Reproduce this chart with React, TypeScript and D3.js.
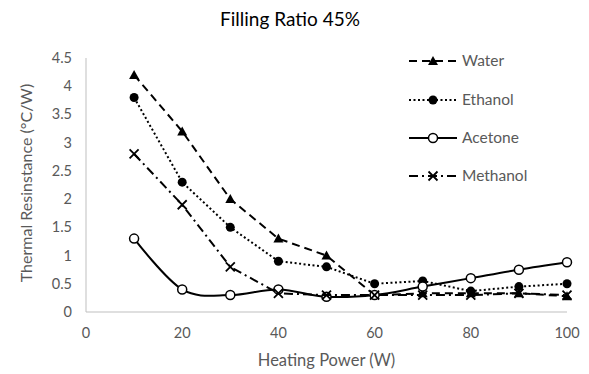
import React from "react";
import * as d3 from "d3";

const power = [10, 20, 30, 40, 50, 60, 70, 80, 90, 100];
const water = [4.2, 3.2, 2.0, 1.3, 1.0, 0.3, 0.33, 0.33, 0.33, 0.28];
const ethanol = [3.8, 2.3, 1.5, 0.9, 0.8, 0.5, 0.55, 0.37, 0.45, 0.5];
const acetone = [1.3, 0.4, 0.3, 0.4, 0.27, 0.3, 0.45, 0.6, 0.75, 0.88];
const methanol = [2.8, 1.9, 0.8, 0.33, 0.3, 0.3, 0.3, 0.3, 0.33, 0.3];
const xTicks = [0, 20, 40, 60, 80, 100];
const yTicks = [0, 0.5, 1, 1.5, 2, 2.5, 3, 3.5, 4, 4.5];

const W = 589;
const H = 374;
const FONT = "Lato, 'Open Sans', sans-serif";
const GREY = "#595959";

type Marker = "triangle" | "dot" | "ring" | "cross";
const series: { name: string; values: number[]; dash: string; marker: Marker; smooth: boolean }[] = [
  { name: "Water", values: water, dash: "8,5", marker: "triangle", smooth: false },
  { name: "Ethanol", values: ethanol, dash: "2,2.5", marker: "dot", smooth: false },
  { name: "Acetone", values: acetone, dash: "none", marker: "ring", smooth: true },
  { name: "Methanol", values: methanol, dash: "9,4,2,4", marker: "cross", smooth: false },
];

function MarkerShape({ kind, x, y }: { kind: Marker; x: number; y: number }) {
  if (kind === "triangle") {
    const s = 5;
    return <path d={`M${x},${y - s} L${x + s},${y + s * 0.8} L${x - s},${y + s * 0.8} Z`} fill="#000" />;
  }
  if (kind === "dot") return <circle cx={x} cy={y} r={4.5} fill="#000" />;
  if (kind === "ring") return <circle cx={x} cy={y} r={4.5} fill="#fff" stroke="#000" strokeWidth={1.5} />;
  const s = 4.5;
  return (
    <path d={`M${x - s},${y - s} L${x + s},${y + s} M${x - s},${y + s} L${x + s},${y - s}`} stroke="#000" strokeWidth={1.8} />
  );
}

export default function App() {
  const x = d3.scaleLinear().domain([0, 100]).range([86, 567]);
  const y = d3.scaleLinear().domain([0, 4.5]).range([312, 58]);

  const legendY = [61, 100, 138, 176];

  return (
    <svg width={W} height={H} style={{ display: "block", position: "absolute", left: 0, top: 0, background: "#fff" }}>
      <text x={290} y={26} textAnchor="middle" fontFamily={FONT} fontSize={19} fill="#000">
        Filling Ratio 45%
      </text>

      {/* axes */}
      <line x1={x(0)} x2={x(0)} y1={y(4.5)} y2={y(0)} stroke="#bfbfbf" strokeWidth={1} />
      <line x1={x(0)} x2={x(100)} y1={y(0)} y2={y(0)} stroke="#bfbfbf" strokeWidth={1} />

      {yTicks.map((t) => (
        <text key={t} x={72} y={y(t) + 5} textAnchor="end" fontFamily={FONT} fontSize={14.5} fill={GREY}>
          {t}
        </text>
      ))}
      {xTicks.map((t) => (
        <text key={t} x={x(t)} y={338} textAnchor="middle" fontFamily={FONT} fontSize={14.5} fill={GREY}>
          {t}
        </text>
      ))}

      <text x={(x(0) + x(100)) / 2} y={366} textAnchor="middle" fontFamily={FONT} fontSize={16.5} fill={GREY}>
        Heating Power (W)
      </text>
      <text
        transform={`translate(32,${y(2.25) - 2}) rotate(-90)`}
        textAnchor="middle"
        fontFamily={FONT}
        fontSize={16}
        fill={GREY}
      >
        Thermal Resinstance (°C/W)
      </text>

      {series.map((s) => {
        const line = d3
          .line<number>()
          .x((_, i) => x(power[i]))
          .y((v) => y(v))
          .curve(s.smooth ? d3.curveCardinal.tension(0) : d3.curveLinear);
        return (
          <g key={s.name}>
            <path d={line(s.values) ?? ""} fill="none" stroke="#000" strokeWidth={2} strokeDasharray={s.dash} />
            {s.values.map((v, i) => (
              <MarkerShape key={i} kind={s.marker} x={x(power[i])} y={y(v)} />
            ))}
          </g>
        );
      })}

      {/* legend */}
      {series.map((s, i) => (
        <g key={s.name}>
          <line x1={409} x2={457} y1={legendY[i]} y2={legendY[i]} stroke="#000" strokeWidth={2} strokeDasharray={s.dash} />
          <MarkerShape kind={s.marker} x={433} y={legendY[i]} />
          <text x={462} y={legendY[i] + 5} fontFamily={FONT} fontSize={15.5} fill={GREY}>
            {s.name}
          </text>
        </g>
      ))}
    </svg>
  );
}
